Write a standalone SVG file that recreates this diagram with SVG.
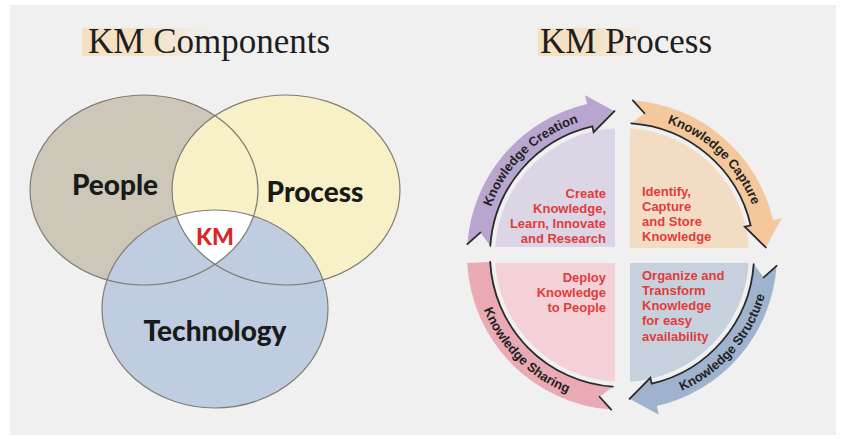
<svg xmlns="http://www.w3.org/2000/svg" width="844" height="443" viewBox="0 0 844 443">
<style>
.title{font-family:"Liberation Serif","Times New Roman",serif;font-size:35px;fill:#1e1e1e}
.venn{font-family:Lato,"Open Sans",sans-serif;font-weight:900;fill:#1a1a1a;text-anchor:middle}
.ring{fill:none;stroke:#807d74;stroke-width:1.2}
.arc{font-family:"Liberation Sans",Arial,sans-serif;font-weight:700;font-size:13px;fill:#222}
.red{font-family:"Liberation Sans",Arial,sans-serif;font-weight:700;font-size:13px;fill:#e03c3c}
.edge{fill:none;stroke:#2a2a2a;stroke-width:1.8;stroke-linecap:round}
</style>
<defs>
<linearGradient id="hl" x1="0" x2="1" y1="0" y2="0">
<stop offset="0" stop-color="#f5e0c0"/><stop offset="0.55" stop-color="#f5e0c0" stop-opacity="0.85"/><stop offset="1" stop-color="#f5e0c0" stop-opacity="0"/>
</linearGradient>
<clipPath id="cPeople"><ellipse cx="144" cy="190" rx="114" ry="95"/></clipPath>
<clipPath id="cProcess"><ellipse cx="286" cy="190" rx="114" ry="95"/></clipPath>
<path id="tpCreation" d="M482.52,252.57 A139.5,139.5 0 0 1 624.43,115.52"/>
<path id="tpCapture" d="M619.57,115.52 A139.5,139.5 0 0 1 761.48,252.57"/>
<path id="tpStructure" d="M632.36,403.14 A148.5,148.5 0 0 0 770.14,244.64"/>
<path id="tpSharing" d="M473.5,255 A148.5,148.5 0 0 0 622,403.5"/>
</defs>

<rect x="0" y="0" width="844" height="443" fill="#ffffff"/>
<rect x="10" y="5" width="826" height="430" fill="#f0f0f0"/>

<g id="titles">
<rect x="82" y="28" width="130" height="28" fill="url(#hl)"/>
<text class="title" x="88" y="53">KM Components</text>
<rect x="538" y="28" width="110" height="28" fill="url(#hl)"/>
<text class="title" x="540" y="53">KM Process</text>
</g>

<g id="venn">
<g id="people"><ellipse cx="144" cy="190" rx="114" ry="95" fill="#cdc7b9"/></g>
<g id="process"><ellipse cx="286" cy="190" rx="114" ry="95" fill="#f8f1c8"/></g>
<g id="technology"><ellipse cx="215" cy="309" rx="113" ry="99" fill="#c0cde0"/></g>
<g id="km-core" clip-path="url(#cPeople)"><g clip-path="url(#cProcess)"><ellipse cx="215" cy="309" rx="113" ry="99" fill="#ffffff"/></g></g>
<ellipse class="ring" cx="144" cy="190" rx="114" ry="95"/>
<ellipse class="ring" cx="286" cy="190" rx="114" ry="95"/>
<ellipse class="ring" cx="215" cy="309" rx="113" ry="99"/>
<text class="venn" x="115" y="195" font-size="28">People</text>
<text class="venn" x="315" y="202" font-size="28">Process</text>
<text class="venn" x="215" y="341" font-size="28">Technology</text>
<text class="venn" x="215" y="245" font-size="23" style="fill:#d8262a">KM</text>
</g>

<g id="boxes">
<g id="box-creation"><path d="M615,247 L615,128.2 A127,127 0 0 0 495.25,247 Z" fill="#dbd5e6"/>
<text class="red" text-anchor="end"><tspan x="606" y="198">Create</tspan><tspan x="606" y="213">Knowledge,</tspan><tspan x="606" y="228">Learn, Innovate</tspan><tspan x="606" y="243">and Research</tspan></text></g>
<g id="box-capture"><path d="M630,248 L630,128.25 A127,127 0 0 1 748.8,248 Z" fill="#f3dcc4"/>
<text class="red"><tspan x="642" y="196">Identify,</tspan><tspan x="642" y="211">Capture</tspan><tspan x="642" y="226">and Store</tspan><tspan x="642" y="241">Knowledge</tspan></text></g>
<g id="box-sharing"><path d="M615,263 L495.25,263 A127,127 0 0 0 615,381.8 Z" fill="#f3d1d7"/>
<text class="red" text-anchor="end"><tspan x="606" y="282">Deploy</tspan><tspan x="606" y="297">Knowledge</tspan><tspan x="606" y="312">to People</tspan></text></g>
<g id="box-structure"><path d="M630,263 L748.75,263 A127,127 0 0 1 630,381.75 Z" fill="#c7d1de"/>
<text class="red"><tspan x="642" y="280">Organize and</tspan><tspan x="642" y="295">Transform</tspan><tspan x="642" y="310">Knowledge</tspan><tspan x="642" y="325">for easy</tspan><tspan x="642" y="341">availability</tspan></text></g>
</g>

<g id="connectors">
<g id="arrow-creation">
<path d="M467.38,244.19 A155,155 0 0 1 587.13,103.97 L585.11,95.2 L614.46,111.2 L593.66,132.23 L592.31,126.38 A132,132 0 0 0 490.32,245.79 L480.27,232.55 Z" fill="#b8a6d0"/>
<path class="edge" d="M467.38,244.19 L480.27,232.55 M490.32,245.79 A132,132 0 0 1 592.31,126.38 L593.66,132.23 L614.46,111.2"/>
<text class="arc"><textPath href="#tpCreation" startOffset="50%" text-anchor="middle">Knowledge Creation</textPath></text>
</g>
<g id="arrow-capture">
<path d="M632.81,100.38 A155,155 0 0 1 773.03,220.13 L781.8,218.11 L765.8,247.46 L744.77,226.66 L750.62,225.31 A132,132 0 0 0 631.21,123.32 L644.45,113.27 Z" fill="#f2c89c"/>
<path class="edge" d="M632.81,100.38 L644.45,113.27 M631.21,123.32 A132,132 0 0 1 750.62,225.31 L744.77,226.66 L765.8,247.46"/>
<text class="arc"><textPath href="#tpCapture" startOffset="50%" text-anchor="middle">Knowledge Capture</textPath></text>
</g>
<g id="arrow-structure">
<path d="M776.62,265.81 A155,155 0 0 1 656.87,406.03 L658.89,414.8 L629.54,398.8 L650.34,377.77 L651.69,383.62 A132,132 0 0 0 753.68,264.21 L763.73,277.45 Z" fill="#9fb3cf"/>
<path class="edge" d="M776.62,265.81 L763.73,277.45 M753.68,264.21 A132,132 0 0 1 651.69,383.62 L650.34,377.77 L629.54,398.8"/>
<text class="arc"><textPath href="#tpStructure" startOffset="50%" text-anchor="middle">Knowledge Structure</textPath></text>
</g>
<g id="arrow-sharing">
<path d="M611.19,409.62 A155,155 0 0 1 467.21,263.11 L490.18,261.91 A132,132 0 0 0 612.79,386.68 L599.55,396.73 Z" fill="#eaaab4"/>
<path class="edge" d="M611.19,409.62 L599.55,396.73 M612.79,386.68 A132,132 0 0 1 490.18,261.91"/>
<text class="arc"><textPath href="#tpSharing" startOffset="50%" text-anchor="middle">Knowledge Sharing</textPath></text>
</g>
</g>
</svg>
